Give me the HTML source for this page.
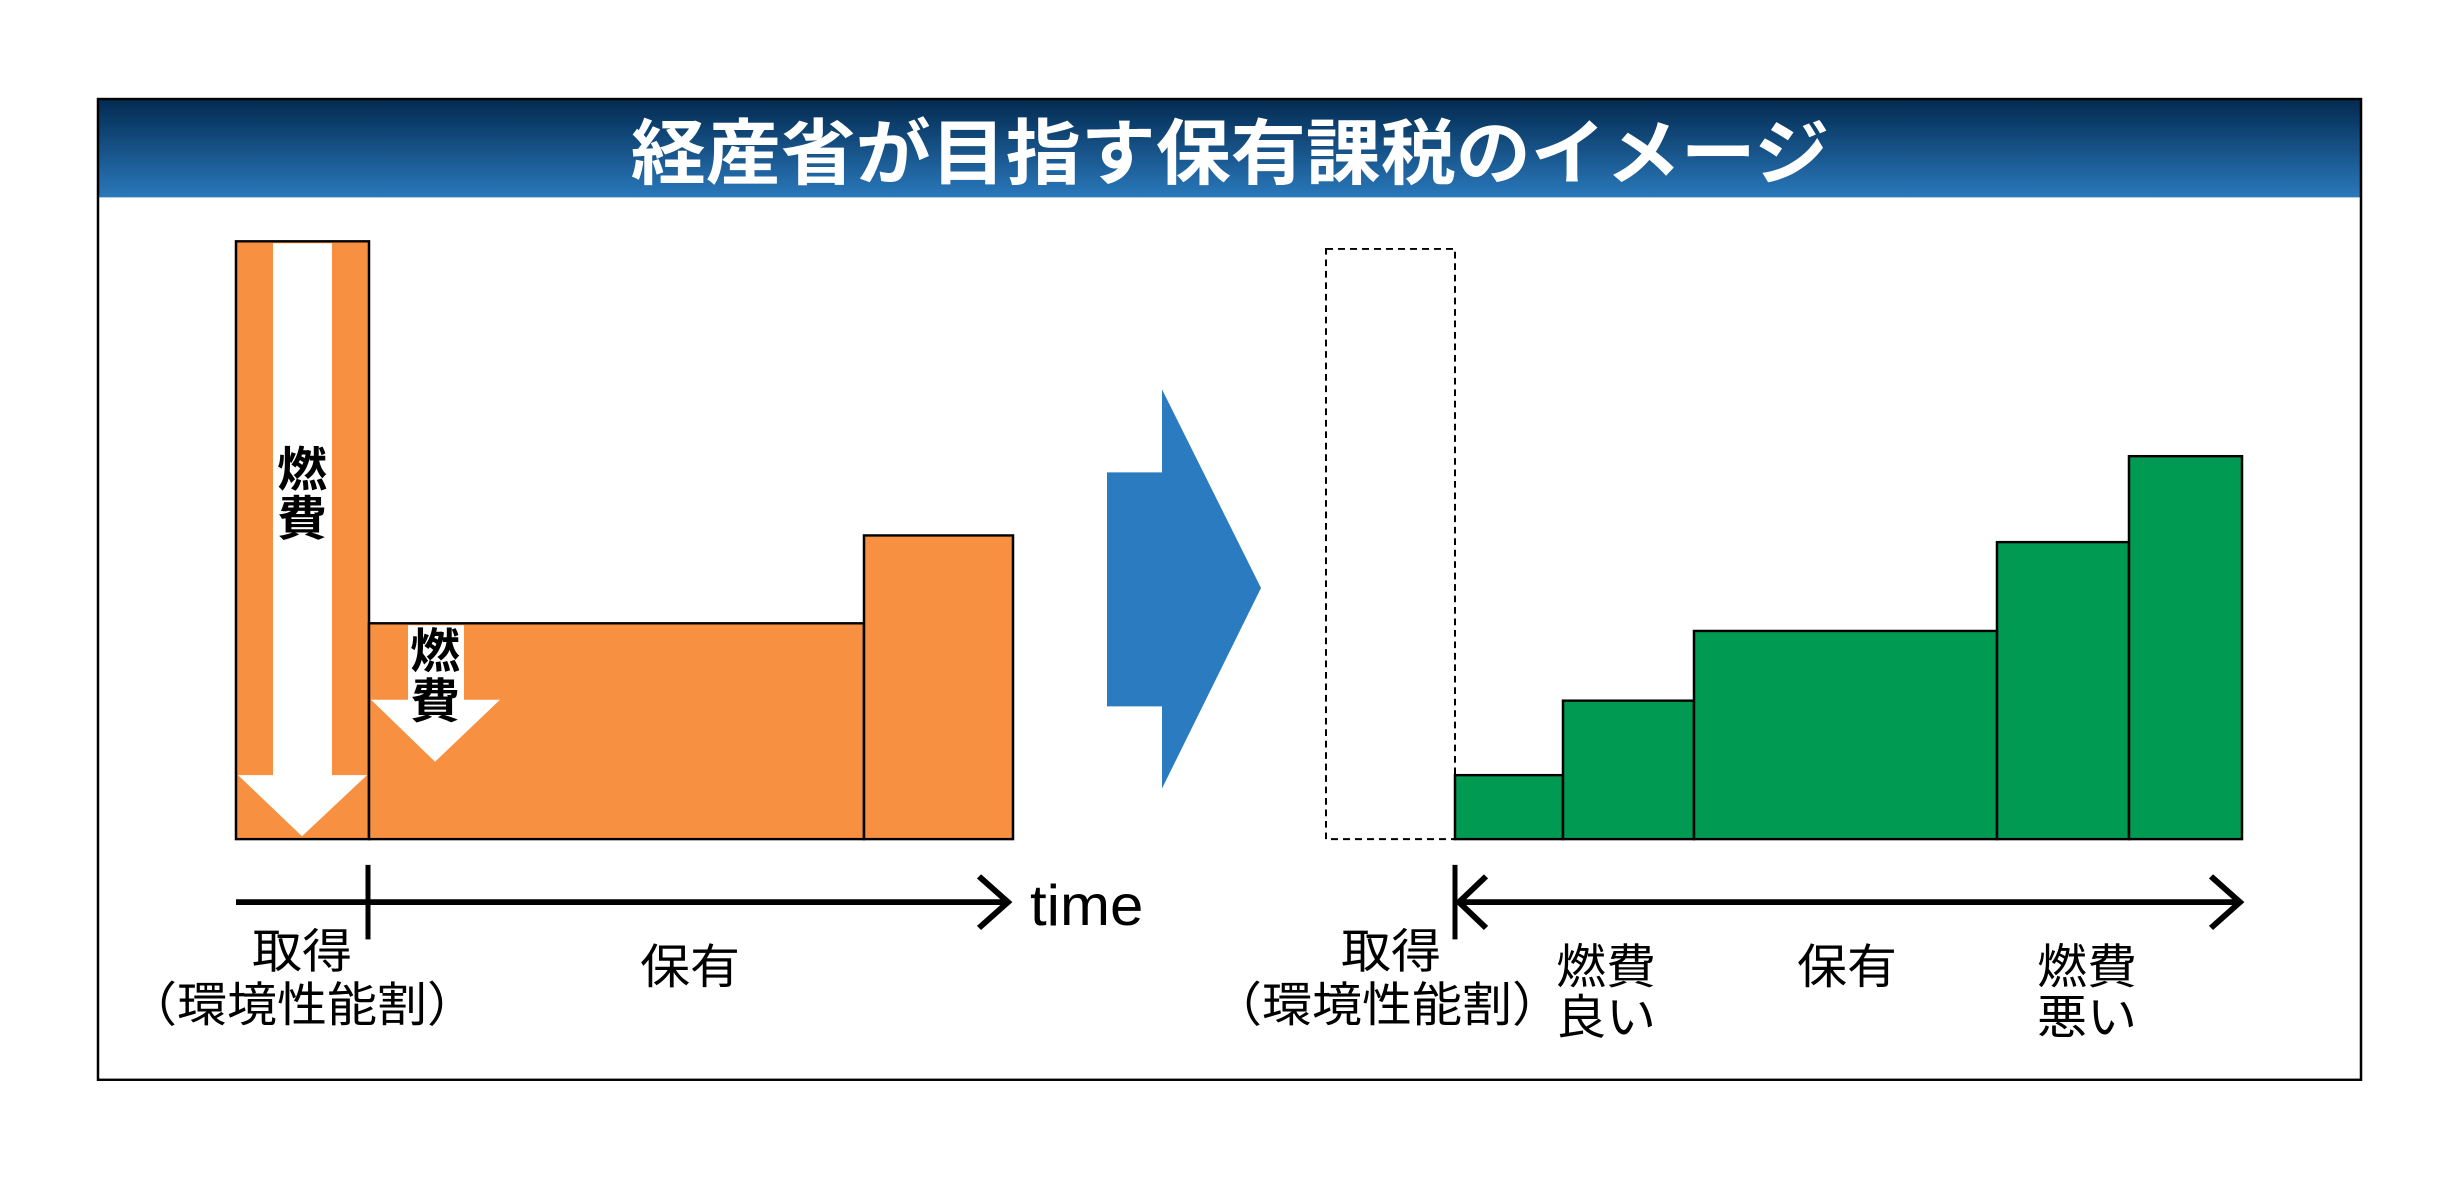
<!DOCTYPE html>
<html><head><meta charset="utf-8"><style>
html,body{margin:0;padding:0;background:#fff;}
svg{display:block}
text{font-family:"Liberation Sans","Noto Sans CJK JP",sans-serif;}
</style></head><body>
<svg width="2461" height="1181" viewBox="0 0 2461 1181" xmlns="http://www.w3.org/2000/svg">
<defs>
<linearGradient id="hg" x1="0" y1="0" x2="0" y2="1">
<stop offset="0" stop-color="#022a50"/><stop offset="1" stop-color="#2a78bb"/>
</linearGradient>
</defs>
<rect x="0" y="0" width="2461" height="1181" fill="#fff"/>
<g transform="matrix(1,0,0,0.955,0,3.5)">
<rect x="98" y="100" width="2263" height="103" fill="url(#hg)"/>
<rect x="98" y="100" width="2263" height="1027" fill="none" stroke="#000" stroke-width="2.5"/>
<text x="1230" y="183" font-size="75" font-weight="bold" fill="#fff" text-anchor="middle">経産省が目指す保有課税のイメージ</text>

<g stroke="#000" stroke-width="2.5" fill="#f79040">
<rect x="236" y="249" width="133" height="626"/>
<rect x="369" y="649" width="495" height="226"/>
<rect x="864" y="557" width="149" height="318"/>
</g>
<polygon points="273,251 332,251 332,808 367,808 302,872 238,808 273,808" fill="#fff"/>
<polygon points="408,651 464,651 464,729 500,729 435,794 371,729 408,729" fill="#fff"/>
<g font-weight="bold" font-size="50" text-anchor="middle" fill="#000">
<text x="302" y="506">燃</text><text x="302" y="557">費</text>
<text x="435" y="696">燃</text><text x="435" y="748">費</text>
</g>
<line x1="236" y1="941" x2="1008" y2="941" stroke="#000" stroke-width="6"/>
<polyline points="979,914 1008,941 979,968" fill="none" stroke="#000" stroke-width="6"/>
<line x1="368" y1="902" x2="368" y2="980" stroke="#000" stroke-width="5"/>
<text x="1030" y="945" font-size="60" dominant-baseline="central" fill="#000">time</text>
<g font-size="50" text-anchor="middle" fill="#000">
<text x="302" y="1010">取得</text>
<text x="302" y="1066">（環境性能割）</text>
<text x="690" y="1026">保有</text>
</g>

<polygon points="1107,491 1162,491 1162,404 1261,612 1162,822 1162,736 1107,736" fill="#2a7bc0"/>

<rect x="1326" y="257" width="129" height="618" fill="none" stroke="#000" stroke-width="2" stroke-dasharray="7,5"/>
<g stroke="#000" stroke-width="2.5" fill="#009a52">
<rect x="1455" y="808" width="108" height="67"/>
<rect x="1563" y="730" width="131" height="145"/>
<rect x="1694" y="657" width="303" height="218"/>
<rect x="1997" y="564" width="132" height="311"/>
<rect x="2129" y="474" width="113" height="401"/>
</g>
<line x1="1458" y1="941" x2="2240" y2="941" stroke="#000" stroke-width="6"/>
<polyline points="2211,914 2240,941 2211,968" fill="none" stroke="#000" stroke-width="6"/>
<polyline points="1486,914 1459,941 1486,968" fill="none" stroke="#000" stroke-width="6"/>
<line x1="1455" y1="902" x2="1455" y2="980" stroke="#000" stroke-width="5"/>
<g font-size="50" text-anchor="middle" fill="#000">
<text x="1391" y="1010">取得</text>
<text x="1387" y="1066">（環境性能割）</text>
<text x="1606" y="1026">燃費</text>
<text x="1606" y="1079">良い</text>
<text x="1847" y="1026">保有</text>
<text x="2087" y="1026">燃費</text>
<text x="2087" y="1079">悪い</text>
</g>
</g>
</svg>
</body></html>
